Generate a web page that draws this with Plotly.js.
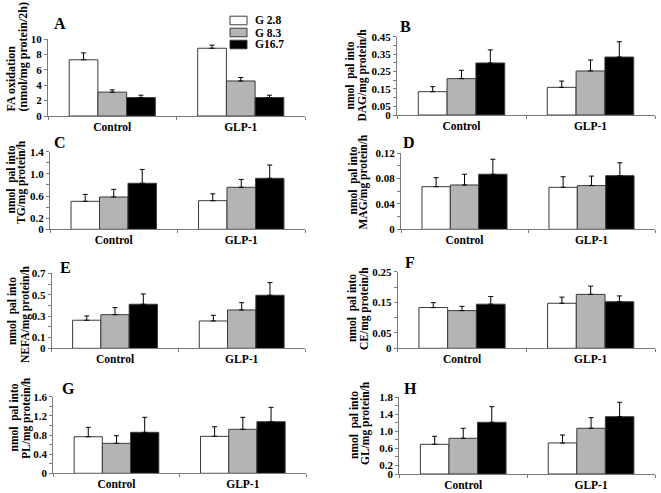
<!DOCTYPE html>
<html><head><meta charset="utf-8">
<script src="https://cdn.plot.ly/plotly-3.0.1.min.js"></script>
<style>html,body{margin:0;padding:0;background:#fff;}#chart{width:661px;height:493px;}</style>
</head><body><div id="chart"></div>
<script>
// ---------- data ----------
const categories = ['Control', 'GLP-1'];
const seriesNames = ['G 2.8', 'G 8.3', 'G16.7'];

// each panel: one row per glucose level (G 2.8, G 8.3, G16.7), values for [Control, GLP-1]
const faMean = [[7.3, 8.8], [3.1, 4.55], [2.4, 2.4]];
const faSem  = [[0.9, 0.4], [0.3, 0.45], [0.3, 0.3]];
const faTicks = [0, 2, 4, 6, 8, 10];
const faTickText = ['0', '2', '4', '6', '8', '10'];

const dagMean = [[0.134, 0.159], [0.209, 0.253], [0.299, 0.333]];
const dagSem  = [[0.029, 0.036], [0.048, 0.063], [0.075, 0.088]];
const dagTicks = [0, 0.05, 0.1, 0.15, 0.2, 0.25, 0.3, 0.35, 0.4, 0.45];
const dagTickText = ['0', '0.05', '', '0.15', '', '0.25', '', '0.35', '', '0.45'];

const tgMean = [[0.505, 0.516], [0.583, 0.758], [0.83, 0.92]];
const tgSem  = [[0.125, 0.124], [0.137, 0.142], [0.25, 0.24]];
const tgTicks = [0, 0.2, 0.4, 0.6, 0.8, 1.0, 1.2, 1.4];
const tgTickText = ['0', '0.2', '', '0.6', '', '1.0', '', '1.4'];

const magMean = [[0.0673, 0.0663], [0.070, 0.069], [0.0869, 0.0847]];
const magSem  = [[0.0142, 0.0167], [0.017, 0.015], [0.0237, 0.0203]];
const magTicks = [0, 0.02, 0.04, 0.06, 0.08, 0.10, 0.12];
const magTickText = ['0', '', '0.04', '', '0.08', '', '0.12'];

const nefaMean = [[0.262, 0.255], [0.314, 0.358], [0.411, 0.495]];
const nefaSem  = [[0.040, 0.053], [0.066, 0.068], [0.096, 0.118]];
const nefaTicks = [0, 0.1, 0.2, 0.3, 0.4, 0.5, 0.6, 0.7];
const nefaTickText = ['0', '0.1', '', '0.3', '', '0.5', '', '0.7'];

const ceMean = [[0.133, 0.147], [0.123, 0.176], [0.144, 0.152]];
const ceSem  = [[0.016, 0.020], [0.014, 0.027], [0.025, 0.019]];
const ceTicks = [0, 0.05, 0.1, 0.15, 0.2, 0.25];
const ceTickText = ['0', '0.05', '', '0.15', '', '0.25'];

const plMean = [[0.764, 0.772], [0.626, 0.919], [0.856, 1.077]];
const plSem  = [[0.196, 0.201], [0.159, 0.25], [0.313, 0.301]];
const plTicks = [0, 0.2, 0.4, 0.6, 0.8, 1.0, 1.2, 1.4, 1.6];
const plTickText = ['0', '', '0.4', '', '0.8', '', '1.2', '', '1.6'];

const glMean = [[0.697, 0.728], [0.838, 1.073], [1.213, 1.345]];
const glSem  = [[0.188, 0.187], [0.235, 0.249], [0.367, 0.338]];
const glTicks = [0, 0.2, 0.4, 0.6, 0.8, 1.0, 1.2, 1.4, 1.6, 1.8];
const glTickText = ['0', '0.2', '', '0.6', '', '1.0', '', '1.4', '', '1.8'];

// ---------- styles ----------
const W = 661, H = 493;
const FONT = 'Liberation Serif, Times New Roman, Times, serif';
const fills = ['#ffffff', '#b4b4b4', '#000000'];
const edge = '#3a3a3a';
const axisColor = '#7a7a7a';

// panel geometry (pixels): axis x-extent, y pixel of range top and of zero
const panels = [
  {letter: 'A', mean: faMean,   sem: faSem,   ticks: faTicks,   text: faTickText,
   title: ['FA oxidation', '(nmol/mg protein/2h)'],
   x0: 48, x1: 305, yTop: 39, yZero: 116, L: [52, 23], T: [[10.5, 79], [22.5, 57]], tfs: 12},
  {letter: 'B', mean: dagMean,  sem: dagSem,  ticks: dagTicks,  text: dagTickText,
   title: ['nmol  pal into', 'DAG/mg protein/h'],
   x0: 397, x1: 655, yTop: 36.7, yZero: 115, L: [398, 27], T: [[350.5, 76], [362.5, 75]], tfs: 11.5},
  {letter: 'C', mean: tgMean,   sem: tgSem,   ticks: tgTicks,   text: tgTickText,
   title: ['nmol  pal into', 'TG/mg protein/h'],
   x0: 50, x1: 305, yTop: 151.7, yZero: 229.3, L: [52, 143], T: [[10.5, 180], [22, 182]], tfs: 11.5},
  {letter: 'D', mean: magMean,  sem: magSem,  ticks: magTicks,  text: magTickText,
   title: ['nmol  pal into', 'MAG/mg protein/h'],
   x0: 401, x1: 655, yTop: 153.3, yZero: 229.3, L: [401, 143], T: [[352.5, 181], [363.5, 182]], tfs: 11.5},
  {letter: 'E', mean: nefaMean, sem: nefaSem, ticks: nefaTicks, text: nefaTickText,
   title: ['nmol  pal into', 'NEFA/mg protein/h'],
   x0: 51.7, x1: 305, yTop: 273.3, yZero: 348.3, L: [58, 267], T: [[12, 311], [25, 314]], tfs: 11.5},
  {letter: 'F', mean: ceMean,   sem: ceSem,   ticks: ceTicks,   text: ceTickText,
   title: ['nmol  pal into', 'CE/mg protein/h'],
   x0: 397.7, x1: 655, yTop: 271.7, yZero: 348.3, L: [403, 262], T: [[352, 308], [364, 309]], tfs: 11.5},
  {letter: 'G', mean: plMean,   sem: plSem,   ticks: plTicks,   text: plTickText,
   title: ['nmol  pal into', 'PL/mg protein/h'],
   x0: 53.3, x1: 306, yTop: 396.7, yZero: 473.3, L: [60, 388], T: [[13.5, 418], [26, 418]], tfs: 11.5},
  {letter: 'H', mean: glMean,   sem: glSem,   ticks: glTicks,   text: glTickText,
   title: ['nmol  pal into', 'GL/mg protein/h'],
   x0: 399.3, x1: 655, yTop: 397.3, yZero: 474, L: [402, 388], T: [[354, 425], [365, 423]], tfs: 11.5}
];

const px = v => v / W;
const py = v => 1 - v / H;

const traces = [];
const layout = {
  width: W, height: H,
  margin: {l: 0, r: 0, t: 0, b: 0},
  paper_bgcolor: '#ffffff', plot_bgcolor: 'rgba(0,0,0,0)',
  showlegend: false,
  barmode: 'group', bargap: 0.33, bargroupgap: 0,
  font: {family: FONT, color: '#000'},
  annotations: [], shapes: []
};

panels.forEach((p, i) => {
  const n = i + 1;
  const xa = 'xaxis' + (n === 1 ? '' : n), ya = 'yaxis' + (n === 1 ? '' : n);
  const xr = 'x' + (n === 1 ? '' : n), yr = 'y' + (n === 1 ? '' : n);
  layout[xa] = {
    domain: [px(p.x0), px(p.x1)], anchor: yr, type: 'category', range: [-0.5, 1.5],
    showline: true, linecolor: axisColor, linewidth: 1, mirror: false,
    ticks: 'outside', tickson: 'boundaries', ticklen: 3, tickcolor: axisColor, tickwidth: 1,
    tickfont: {family: FONT, size: 11.5, color: '#000', weight: 'bold'},
    showgrid: false, zeroline: false, fixedrange: true
  };
  layout[ya] = {
    domain: [py(p.yZero), py(p.yTop)], anchor: xr,
    range: [0, p.ticks[p.ticks.length - 1]],
    showline: true, linecolor: axisColor, linewidth: 1,
    ticks: 'outside', ticklen: 3, tickcolor: axisColor, tickwidth: 1,
    tickmode: 'array', tickvals: p.ticks, ticktext: p.text,
    tickfont: {family: FONT, size: 11, color: '#000', weight: 'bold'},
    showgrid: false, zeroline: false, fixedrange: true
  };
  p.mean.forEach((vals, s) => {
    traces.push({
      type: 'bar', x: categories, y: vals, name: seriesNames[s],
      xaxis: xr, yaxis: yr,
      marker: {color: fills[s], line: {color: edge, width: 1}},
      error_y: {type: 'data', symmetric: false, array: p.sem[s], arrayminus: vals.map(() => 0),
                color: '#000', thickness: 1, width: 2.5},
      hoverinfo: 'skip'
    });
  });
  layout.annotations.push({
    xref: 'paper', yref: 'paper', x: px(p.L[0]), y: py(p.L[1]),
    xanchor: 'left', yanchor: 'middle', showarrow: false,
    text: p.letter, font: {family: FONT, size: 16, weight: 'bold', color: '#000'}
  });
  p.title.forEach((t, k) => {
    layout.annotations.push({
      xref: 'paper', yref: 'paper', x: px(p.T[k][0]), y: py(p.T[k][1]),
      xanchor: 'center', yanchor: 'middle', showarrow: false, textangle: -90,
      text: t, font: {family: FONT, size: p.tfs, weight: 'bold', color: '#000'}
    });
  });
});

// legend (drawn beside panel A)
const legendRows = [20.5, 32.5, 44.5];
seriesNames.forEach((name, s) => {
  layout.shapes.push({
    type: 'rect', xref: 'paper', yref: 'paper',
    x0: px(230), x1: px(247), y0: py(legendRows[s] + 4.3), y1: py(legendRows[s] - 4.3),
    fillcolor: fills[s], line: {color: edge, width: 1}
  });
  layout.annotations.push({
    xref: 'paper', yref: 'paper', x: px(253), y: py(legendRows[s]),
    xanchor: 'left', yanchor: 'middle', showarrow: false,
    text: name, font: {family: FONT, size: 11.5, weight: 'bold', color: '#000'}
  });
});

Plotly.newPlot('chart', traces, layout, {displayModeBar: false, staticPlot: true});
</script>
</body></html>
